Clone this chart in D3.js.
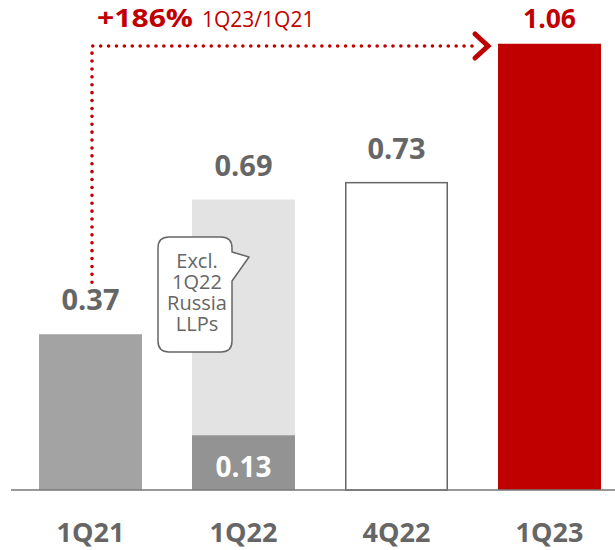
<!DOCTYPE html>
<html>
<head>
<meta charset="utf-8">
<script src="https://cdn.jsdelivr.net/npm/d3@7"></script>
<style>
  html, body { margin: 0; padding: 0; background: #fff; }
  svg { display: block; font-family: "Open Sans", "Noto Sans", sans-serif; }
</style>
</head>
<body>
<svg id="chart" width="615" height="550"></svg>
<script>
// Quarterly values
const categories = ["1Q21", "1Q22", "4Q22", "1Q23"];
const values = [0.37, 0.69, 0.73, 1.06];
const underlying1Q22 = 0.13;          // dark part of the 1Q22 bar
const growthLabel = "+186%";
const growthPeriod = "1Q23/1Q21";
const noteLines = ["Excl.", "1Q22", "Russia", "LLPs"];

const svg = d3.select("#chart");
const baseY = 490;

const x = d3.scaleBand()
  .domain(categories)
  .range([14, 626])
  .paddingInner(0.327)
  .paddingOuter(0.1635);

const y = d3.scaleLinear().domain([0, 1]).range([baseY, baseY - 421]);

const grey = "#666666";
const red = "#c00000";

const fills = { "1Q21": "#a3a3a3", "1Q22": "#e3e3e3", "4Q22": "#ffffff", "1Q23": red };

const data = categories.map((c, i) => ({ cat: c, v: values[i] }));

// Main bars
svg.append("g").selectAll("rect")
  .data(data)
  .join("rect")
  .attr("x", d => x(d.cat) + (d.cat === "4Q22" ? 0.75 : 0))
  .attr("y", d => y(d.v))
  .attr("width", d => x.bandwidth() - (d.cat === "4Q22" ? 1.5 : 0))
  .attr("height", d => baseY - y(d.v))
  .attr("fill", d => fills[d.cat])
  .attr("stroke", d => d.cat === "4Q22" ? grey : "none")
  .attr("stroke-width", 1.5);

// Dark portion of 1Q22
svg.append("rect")
  .attr("x", x("1Q22"))
  .attr("y", y(underlying1Q22))
  .attr("width", x.bandwidth())
  .attr("height", baseY - y(underlying1Q22))
  .attr("fill", "#939393");

// Baseline
svg.append("line")
  .attr("x1", 11).attr("x2", 615)
  .attr("y1", baseY).attr("y2", baseY)
  .attr("stroke", "#777").attr("stroke-width", 1.5);

// Value labels
svg.append("g").selectAll("text")
  .data(data)
  .join("text")
  .attr("x", d => x(d.cat) + x.bandwidth() / 2)
  .attr("y", d => y(d.v) - (d.cat === "1Q23" ? 16 : 24))
  .attr("text-anchor", "middle")
  .attr("font-size", d => d.cat === "1Q23" ? 26.5 : 29)
  .attr("font-weight", 700)
  .attr("fill", d => d.cat === "1Q23" ? red : grey)
  .text(d => d.v.toFixed(2));

svg.append("text")
  .attr("x", x("1Q22") + x.bandwidth() / 2)
  .attr("y", baseY - 13)
  .attr("text-anchor", "middle")
  .attr("font-size", 28)
  .attr("font-weight", 700)
  .attr("fill", "#fff")
  .text(underlying1Q22.toFixed(2));

// Category labels
svg.append("g").selectAll("text")
  .data(categories)
  .join("text")
  .attr("x", d => x(d) + x.bandwidth() / 2)
  .attr("y", 542)
  .attr("text-anchor", "middle")
  .attr("font-size", 27)
  .attr("font-weight", 700)
  .attr("fill", grey)
  .text(d => d);

// Growth arrow: dotted connector from 1Q21 to 1Q23
const cx0 = x("1Q21") + x.bandwidth() / 2 + 1.5;
const arrowY = 46;
const tipX = 488;
svg.append("path")
  .attr("d", `M${cx0},${y(values[0]) - 52} V${arrowY} H${tipX - 14}`)
  .attr("fill", "none")
  .attr("stroke", red)
  .attr("stroke-width", 3.6)
  .attr("stroke-linecap", "round")
  .attr("stroke-dasharray", "0 7.9");

svg.append("path")
  .attr("d", `M${tipX - 13},${arrowY - 12} L${tipX},${arrowY} L${tipX - 13},${arrowY + 12}`)
  .attr("fill", "none")
  .attr("stroke", red)
  .attr("stroke-width", 5)
  .attr("stroke-linecap", "round")
  .attr("stroke-linejoin", "miter");

svg.append("text")
  .attr("x", 97)
  .attr("y", 27)
  .attr("fill", red)
  .attr("font-size", 24.5)
  .attr("font-weight", 700)
  .attr("textLength", 96)
  .attr("lengthAdjust", "spacingAndGlyphs")
  .text(growthLabel);

svg.append("text")
  .attr("x", 202)
  .attr("y", 27)
  .attr("fill", red)
  .attr("font-size", 21)
  .attr("font-weight", 400)
  .text(growthPeriod);

// Speech-bubble note on 1Q22
const bx = 158, by = 237, bw = 74, bh = 115, r = 11;
const bubble = [
  `M${bx + r},${by}`,
  `H${bx + bw - r}`,
  `Q${bx + bw},${by} ${bx + bw},${by + r}`,
  `V${by + 15}`,
  `L${bx + bw + 17},${by + 20}`,
  `L${bx + bw},${by + 44}`,
  `V${by + bh - r}`,
  `Q${bx + bw},${by + bh} ${bx + bw - r},${by + bh}`,
  `H${bx + r}`,
  `Q${bx},${by + bh} ${bx},${by + bh - r}`,
  `V${by + r}`,
  `Q${bx},${by} ${bx + r},${by}`,
  "Z"
].join(" ");
svg.append("path")
  .attr("d", bubble)
  .attr("fill", "#fff")
  .attr("stroke", grey)
  .attr("stroke-width", 1.5)
  .attr("stroke-linejoin", "round");

const note = svg.append("text")
  .attr("text-anchor", "middle")
  .attr("font-size", 20)
  .attr("fill", grey);
note.selectAll("tspan")
  .data(noteLines)
  .join("tspan")
  .attr("x", bx + bw / 2 + 2)
  .attr("y", (d, i) => by + 31 + i * 21)
  .text(d => d);
</script>
</body>
</html>
